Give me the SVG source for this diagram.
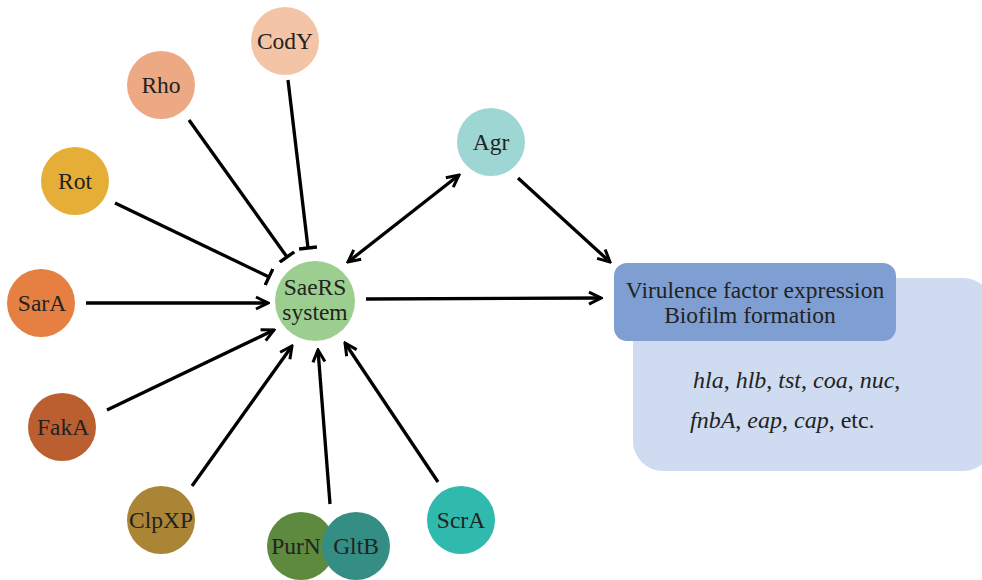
<svg xmlns="http://www.w3.org/2000/svg" width="982" height="580" viewBox="0 0 982 580">
<style>
  .lbl { font-size: 23.5px; text-anchor: middle; }
  .gene { font-size: 24px; font-style: italic; }
  .edge { stroke: #000; stroke-width: 3.3; fill: none; }
</style>
<defs>
  <marker id="arr" markerUnits="userSpaceOnUse" viewBox="0 0 16 16" refX="14" refY="8" markerWidth="16" markerHeight="16" orient="auto-start-reverse">
    <path d="M2,2 L14,8 L2,14" fill="none" stroke="#000" stroke-width="3"/>
  </marker>
  <marker id="bar" markerUnits="userSpaceOnUse" viewBox="0 0 6 18" refX="3" refY="9" markerWidth="6" markerHeight="18" orient="auto">
    <path d="M3,0 L3,18" stroke="#000" stroke-width="3.4"/>
  </marker>
</defs>
<rect width="982" height="580" fill="#fff"/>

<g id="connectors">
  <line class="edge" x1="288" y1="80" x2="308" y2="248" marker-end="url(#bar)"/>
  <line class="edge" x1="189" y1="120" x2="287" y2="257" marker-end="url(#bar)"/>
  <line class="edge" x1="115" y1="203" x2="269" y2="277" marker-end="url(#bar)"/>
  <line class="edge" x1="86" y1="303" x2="268" y2="303" marker-end="url(#arr)"/>
  <line class="edge" x1="107" y1="410" x2="274" y2="330" marker-end="url(#arr)"/>
  <line class="edge" x1="192" y1="486" x2="292" y2="346" marker-end="url(#arr)"/>
  <line class="edge" x1="330" y1="504" x2="318" y2="350" marker-end="url(#arr)"/>
  <line class="edge" x1="438" y1="482" x2="345" y2="343" marker-end="url(#arr)"/>
  <line class="edge" x1="366" y1="299" x2="601" y2="298" marker-end="url(#arr)"/>
  <line class="edge" x1="348" y1="262" x2="459" y2="175" marker-start="url(#arr)" marker-end="url(#arr)"/>
  <line class="edge" x1="518" y1="178" x2="610" y2="262" marker-end="url(#arr)"/>
</g>

<g font-family="'Liberation Serif', 'Times New Roman', 'DejaVu Serif', serif" fill="#222">
<g id="node-cody"><circle cx="285" cy="41" r="34" fill="#f3c4a6"/><text class="lbl" x="285" y="49">CodY</text></g>
<g id="node-rho"><circle cx="161" cy="85" r="34" fill="#eda884"/><text class="lbl" x="161" y="93">Rho</text></g>
<g id="node-rot"><circle cx="75" cy="181" r="34" fill="#e4ae37"/><text class="lbl" x="75" y="189">Rot</text></g>
<g id="node-sara"><circle cx="41" cy="303" r="34" fill="#e57f42"/><text class="lbl" x="42" y="311">SarA</text></g>
<g id="node-faka"><circle cx="62" cy="427" r="34" fill="#bb5f30"/><text class="lbl" x="63" y="435">FakA</text></g>
<g id="node-clpxp"><circle cx="161" cy="520" r="34" fill="#a98535"/><text class="lbl" x="161" y="528">ClpXP</text></g>
<g id="node-purn"><circle cx="301" cy="546" r="34" fill="#5e8a40"/><text class="lbl" x="296" y="554">PurN</text></g>
<g id="node-gltb"><circle cx="356" cy="546" r="34" fill="#348e84"/><text class="lbl" x="356" y="554">GltB</text></g>
<g id="node-scra"><circle cx="461" cy="520" r="34" fill="#2fbaad"/><text class="lbl" x="461" y="528">ScrA</text></g>
<g id="node-agr"><circle cx="491" cy="142" r="34" fill="#9ed6d4"/><text class="lbl" x="491" y="150">Agr</text></g>
<g id="node-saers"><circle cx="315" cy="301" r="40" fill="#9ccf8f"/><text class="lbl" x="315" y="295">SaeRS</text><text class="lbl" x="315" y="320">system</text></g>

<g id="node-virulence">
  <rect x="633" y="278" width="360" height="193" rx="30" fill="#cfdbf0"/>
  <rect x="614" y="263" width="282" height="78" rx="13" fill="#7f9fd3"/>
  <text class="lbl" x="755" y="298">Virulence factor expression</text>
  <text class="lbl" x="750" y="323">Biofilm formation</text>
  <text class="gene" x="693" y="388">hla<tspan font-style="normal">, </tspan>hlb<tspan font-style="normal">, </tspan>tst<tspan font-style="normal">, </tspan>coa<tspan font-style="normal">, </tspan>nuc<tspan font-style="normal">,</tspan></text>
  <text class="gene" x="690" y="428">fnbA<tspan font-style="normal">, </tspan>eap<tspan font-style="normal">, </tspan>cap<tspan font-style="normal">, etc.</tspan></text>
</g>
</g>
</svg>
